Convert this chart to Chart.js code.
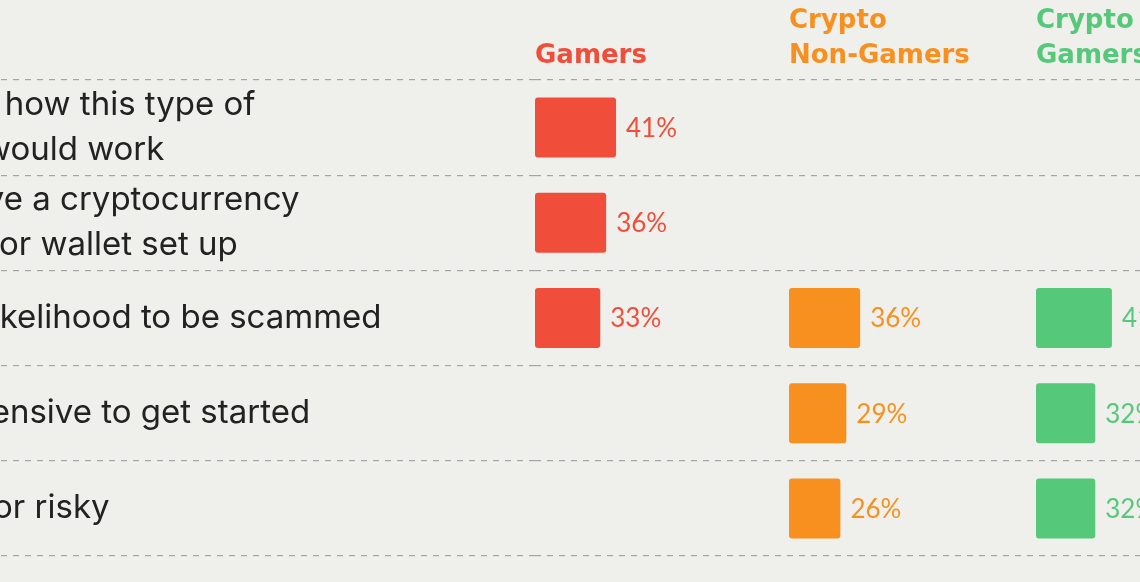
<!DOCTYPE html>
<html>
<head>
<meta charset="utf-8">
<script src="https://cdn.jsdelivr.net/npm/chart.js@4/dist/chart.umd.min.js"></script>
<style>
  html, body { margin: 0; padding: 0; background: #efefeb; }
  #wrap { position: relative; width: 1140px; height: 582px; overflow: hidden; }
  #chart { position: absolute; left: -275px; top: 0; }
</style>
</head>
<body>
<div id="wrap"><canvas id="chart" width="1570" height="582"></canvas></div>
<script>
// Data
const reasons = [
    ['Don\'t understand how this type of', 'game or system would work'],
    ['Don\'t actually have a cryptocurrency', 'platform account or wallet set up'],
    'Concerns about likelihood to be scammed',
    'Could be too expensive to get started',
    'Very speculative or risky'
];
const groups = [['', 'Gamers'], ['Crypto', 'Non-Gamers'], ['Crypto', 'Gamers']];
const gamers = [41, 36, 33, null, null];
const cryptoNonGamers = [null, null, 36, 29, 26];
const cryptoGamers = [null, null, 41, 32, 32];
const colors = ['#f04e3a', '#f7901e', '#55c87a'];

const SHIFT = 275;      // part of the canvas hidden on the left
const LABEL_W = SHIFT + 535;

// value labels next to each bar
const valueLabels = {
    id: 'valueLabels',
    afterDatasetsDraw(chart) {
        const ctx = chart.ctx;
        ctx.save();
        ctx.font = '400 26px Lato';
        ctx.textBaseline = 'middle';
        ctx.textAlign = 'left';
        chart.data.datasets.forEach((ds, i) => {
            const meta = chart.getDatasetMeta(i);
            meta.data.forEach((bar, j) => {
                if (ds.data[j] == null) return;
                ctx.fillStyle = ds.backgroundColor;
                ctx.fillText(ds.data[j] + '%', bar.x + 10, bar.y + 1);
            });
        });
        ctx.restore();
    }
};

function topAxis(i, max, weight) {
    return {
        type: 'linear',
        position: 'top',
        stack: 'cols',
        stackWeight: weight,
        weight: 3 - i,   // keeps the columns in data order
        min: 0,
        max: max,
        ticks: { display: false },
        grid: { display: false, drawTicks: false },
        border: { display: false },
        title: {
            display: true,
            text: groups[i],
            align: 'start',
            color: colors[i],
            font: { family: 'DejaVu Sans', weight: 'bold', size: 26, lineHeight: '35px' },
            padding: { top: 4, bottom: 6 }
        }
    };
}

new Chart(document.getElementById('chart'), {
    type: 'bar',
    data: {
        labels: reasons,
        datasets: [
            { label: 'Gamers', data: gamers, xAxisID: 'x1', backgroundColor: colors[0] },
            { label: 'Crypto Non-Gamers', data: cryptoNonGamers, xAxisID: 'x2', backgroundColor: colors[1] },
            { label: 'Crypto Gamers', data: cryptoGamers, xAxisID: 'x3', backgroundColor: colors[2] }
        ]
    },
    options: {
        indexAxis: 'y',
        responsive: false,
        animation: false,
        layout: { padding: { top: 0, bottom: 26, left: 0, right: 9 } },
        datasets: {
            bar: {
                grouped: false,
                categoryPercentage: 1,
                barPercentage: 0.63,
                borderRadius: 3,
                borderSkipped: false
            }
        },
        plugins: {
            legend: { display: false },
            tooltip: { enabled: false }
        },
        scales: {
            x1: topAxis(0, 128.5, 254),
            x2: topAxis(1, 125, 247),
            x3: topAxis(2, 135, 250),
            y: {
                position: 'left',
                afterFit(scale) {
                    scale.width = LABEL_W;
                    scale.paddingTop = 0;
                    scale.paddingBottom = 0;
                },
                grid: {
                    offset: true,
                    color: '#a5a5a5',
                    tickColor: '#a5a5a5',
                    lineWidth: 1.2,
                    drawTicks: true,
                    tickLength: LABEL_W,
                    tickBorderDash: [6, 6]
                },
                border: { display: false, dash: [6, 6] },
                ticks: {
                    autoSkip: false,
                    crossAlign: 'far',
                    padding: 0,
                    color: '#222222',
                    font: { family: 'Inter', size: 33, lineHeight: '45px' }
                }
            }
        }
    },
    plugins: [valueLabels]
});
</script>
</body>
</html>
